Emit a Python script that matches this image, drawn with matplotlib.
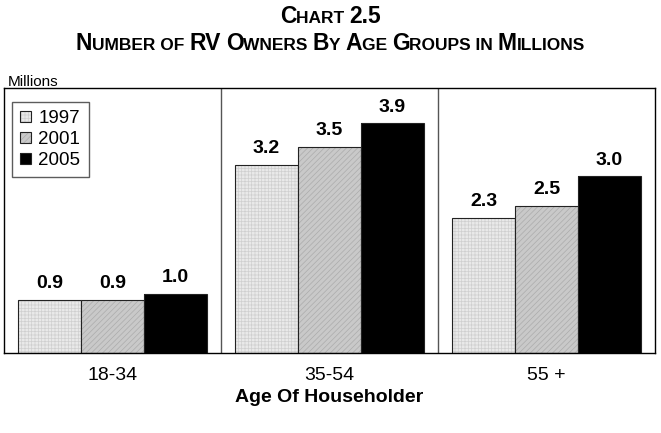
import matplotlib
matplotlib.use("Agg")
import matplotlib.pyplot as plt
from matplotlib.patches import Patch
from matplotlib.legend_handler import HandlerTuple

groups = ["18-34", "35-54", "55 +"]
years = ["1997", "2001", "2005"]
values = {
    "1997": [0.9, 3.2, 2.3],
    "2001": [0.9, 3.5, 2.5],
    "2005": [1.0, 3.9, 3.0],
}
title_lines = ["Chart 2.5", "Number of RV Owners By Age Groups in Millions"]

face = {"1997": "#e9e9e9", "2001": "#c9c9c9", "2005": "#000000"}
hatch_col = {"1997": "#cfcfcf", "2001": "#ababab", "2005": "#000000"}
hatches = {"1997": "+++++", "2001": "//////", "2005": None}

plt.rcParams['font.family'] = ['Liberation Sans', 'DejaVu Sans']
plt.rcParams['hatch.linewidth'] = 0.5

W, H = 661, 433
fig = plt.figure(figsize=(W / 100, H / 100), dpi=100)
ax = fig.add_axes([4 / W, (H - 353) / H, (655 - 4) / W, (353 - 88) / H])

width = 0.29
offsets = [-width, 0, width]
for yr, off in zip(years, offsets):
    xs = [i + off for i in range(len(groups))]
    ax.bar(xs, values[yr], width, color=face[yr], edgecolor=hatch_col[yr],
           hatch=hatches[yr], linewidth=0)
    ax.bar(xs, values[yr], width, fill=False, edgecolor="#222222", linewidth=0.8)
    for x, v in zip(xs, values[yr]):
        ax.text(x, v + 0.2, f"{v:.1f}", ha="center", va="baseline",
                fontsize=14, fontweight="bold")

for xd in [0.5, 1.5]:
    ax.axvline(xd, color="#555555", linewidth=1)

ax.set_xlim(-0.5, 2.5)
ax.set_ylim(0, 4.5)
ax.set_yticks([])
ax.set_xticks(range(len(groups)))
ax.set_xticklabels(groups, fontsize=14)
ax.tick_params(axis="x", length=0, pad=10)
ax.set_xlabel("Age Of Householder", fontsize=14, fontweight="bold", labelpad=4)
for s in ax.spines.values():
    s.set_color("black")
    s.set_linewidth(1)

handles = []
for yr in years:
    p1 = Patch(facecolor=face[yr], edgecolor=hatch_col[yr], hatch=hatches[yr], linewidth=0)
    p2 = Patch(fill=False, edgecolor="#222222", linewidth=0.8)
    handles.append((p1, p2))
leg = ax.legend(handles, years, handler_map={tuple: HandlerTuple(ndivide=1, pad=0)},
                loc="upper left", bbox_to_anchor=(8 / 651, 1 - 14 / 265),
                fontsize=13.5, frameon=True, fancybox=False, edgecolor="#333333",
                handlelength=0.55, handleheight=0.55, handletextpad=0.4,
                labelspacing=0.2, borderpad=0.45, borderaxespad=0)
leg.get_frame().set_linewidth(1)

fig.text(8 / W, 1 - 86 / H, "Millions", fontsize=11, ha="left", va="baseline")


# small-caps titles built from runs of big / small letters
def small_caps(line, y_px, big=16.5, small=12.5):
    runs = []
    for ch in line:
        is_big = not ch.islower()
        size = big if (is_big and ch != " ") else small
        t = ch.upper()
        if runs and runs[-1][1] == size:
            runs[-1][0] += t
        else:
            runs.append([t, size])
    r = fig.canvas.get_renderer()
    arts = []
    widths = []
    for txt, size in runs:
        a = fig.text(0, 1 - y_px / H, txt, fontsize=size, fontweight="bold",
                     ha="left", va="baseline")
        ref = fig.text(0, 0, "I", fontsize=size, fontweight="bold")
        a2 = fig.text(0, 0, txt + "I", fontsize=size, fontweight="bold")
        w = a2.get_window_extent(r).width - ref.get_window_extent(r).width
        ref.remove()
        a2.remove()
        arts.append(a)
        widths.append(w)
    total = sum(widths)
    x = (W - total) / 2
    for a, w in zip(arts, widths):
        a.set_x(x / W)
        x += w


small_caps(title_lines[0], 23)
small_caps(title_lines[1], 50)

fig.savefig("out.png", dpi=100)
